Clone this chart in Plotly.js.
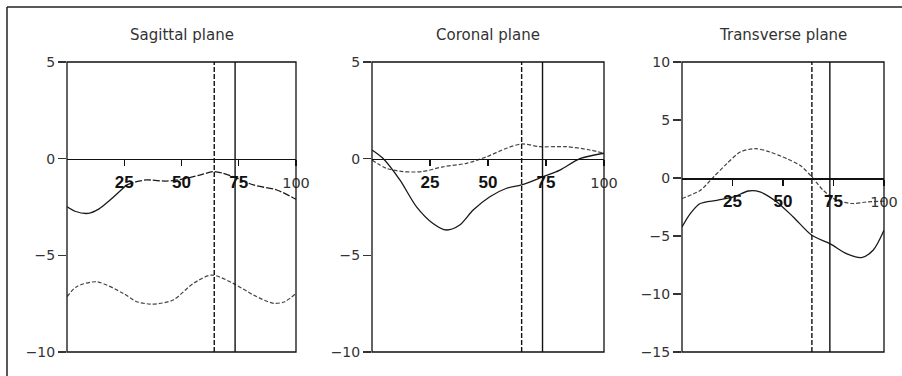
<!DOCTYPE html>
<html>
<head>
<meta charset="utf-8">
<script src="https://cdn.plot.ly/plotly-3.0.1.min.js"></script>
<style>html,body{margin:0;padding:0;background:#fff;}#chart{width:902px;height:376px;}</style>
</head>
<body>
<div id="chart"></div>
<script>
// ---------- DATA ----------
const panelTitles = ["Sagittal plane", "Coronal plane", "Transverse plane"];
const xTickVals = [25, 50, 75, 100];
const yRanges = [[-10, 5], [-10, 5], [-15, 10]];

// Sagittal plane
const sagSolidX = [0, 3.5, 9.3, 14, 18.8, 26, 30, 34.8, 43.5, 52.3, 58, 63.9, 68, 72.6, 81.4, 91.6, 100];
const sagSolidY = [-2.49, -2.72, -2.83, -2.6, -2.14, -1.36, -1.2, -1.1, -1.16, -1.02, -0.85, -0.67, -0.75, -0.93, -1.36, -1.62, -2.1];
const sagDashX = [0, 4.2, 13, 24.6, 30.4, 36.2, 40, 46.4, 55.2, 63.2, 72.6, 81.4, 90.1, 95, 100];
const sagDashY = [-7.14, -6.62, -6.37, -6.97, -7.4, -7.52, -7.5, -7.31, -6.45, -6.02, -6.45, -7.05, -7.48, -7.4, -6.97];
const sagMarkers = [64.3, 73.4];

// Coronal plane
const corSolidX = [0, 4.7, 12, 19.2, 26.3, 32.1, 37.8, 43.6, 50.8, 58, 64.5, 73.8, 81, 89.6, 100];
const corSolidY = [0.45, 0.02, -1.1, -2.49, -3.35, -3.69, -3.43, -2.66, -1.97, -1.53, -1.36, -0.93, -0.59, 0.0, 0.28];
const corDashX = [0, 6.2, 13.4, 21.6, 30.6, 40.7, 49.4, 58, 64.5, 72.4, 83.9, 93.9, 100];
const corDashY = [-0.07, -0.5, -0.67, -0.67, -0.42, -0.24, 0.1, 0.54, 0.76, 0.62, 0.62, 0.45, 0.28];
const corMarkers = [64.5, 73.5];

// Transverse plane
const traSolidX = [0, 4.1, 9, 17.3, 25.5, 32.9, 38.6, 46.9, 55.1, 64.3, 73.2, 81.4, 88.8, 94.6, 100];
const traSolidY = [-4.22, -3.07, -2.2, -1.92, -1.63, -1.12, -1.2, -2.06, -3.36, -4.94, -5.66, -6.52, -6.86, -6.23, -4.5];
const traDashX = [0, 9, 15.6, 22.2, 28.8, 36.2, 43.6, 51.8, 58.4, 64.3, 69.9, 76.5, 84.7, 91.3, 100];
const traDashY = [-1.77, -1.07, 0.09, 1.24, 2.24, 2.53, 2.24, 1.67, 1.09, 0.09, -1.06, -1.92, -2.2, -2.07, -2.0];
const traMarkers = [64.3, 73.2];

// ---------- LAYOUT ----------
const W = 902, H = 376;
const xPix = [[67, 296], [372, 604], [682, 884]];
const yPix = [62, 352];
const yDom = [1 - yPix[1] / H, 1 - yPix[0] / H];
const sagSplit = 5; // solid portion of the upper sagittal curve

const font = {family: "DejaVu Sans, sans-serif", size: 13.5, color: "#333"};
const titleFont = {family: "DejaVu Sans, sans-serif", size: 15, color: "#333"};
const tickText = xTickVals.map(v => v < 100
  ? '<span style="font-family:\'Liberation Sans Narrow\',\'Liberation Sans\',sans-serif;font-stretch:condensed;font-weight:bold;font-size:17px;fill:#111">' + v + '</span>'
  : String(v));

const solidLine = {color: "#1a1a1a", width: 1.3, shape: "spline", smoothing: 0.8};
const dashLine = {color: "#444", width: 1.2, dash: "4px,2px", shape: "spline", smoothing: 0.8};

const traces = [];
function add(x, y, line, k) {
  const s = k === 0 ? "" : String(k + 1);
  traces.push({x: x, y: y, type: "scatter", mode: "lines", line: line,
    xaxis: "x" + s, yaxis: "y" + s, hoverinfo: "skip", showlegend: false});
}
add(sagSolidX.slice(0, sagSplit + 1), sagSolidY.slice(0, sagSplit + 1), solidLine, 0);
add(sagSolidX.slice(sagSplit), sagSolidY.slice(sagSplit), Object.assign({}, solidLine, {dash: "7px,2px"}), 0);
add(sagDashX, sagDashY, dashLine, 0);
add(corSolidX, corSolidY, solidLine, 1);
add(corDashX, corDashY, dashLine, 1);
add(traSolidX, traSolidY, solidLine, 2);
add(traDashX, traDashY, dashLine, 2);

const layout = {
  width: W, height: H,
  margin: {l: 0, r: 0, t: 0, b: 0},
  paper_bgcolor: "#fff", plot_bgcolor: "#fff",
  font: font,
  showlegend: false,
  shapes: [],
  annotations: []
};

const markers = [sagMarkers, corMarkers, traMarkers];
for (let k = 0; k < 3; k++) {
  const s = k === 0 ? "" : String(k + 1);
  const yr = yRanges[k];
  const zeroPos = yDom[0] + (0 - yr[0]) / (yr[1] - yr[0]) * (yDom[1] - yDom[0]);
  layout["xaxis" + s] = {
    domain: [xPix[k][0] / W, xPix[k][1] / W],
    range: [0, 100], anchor: "free", position: zeroPos,
    showgrid: false, zeroline: false, showline: true, linecolor: "#111", linewidth: 1.5,
    ticks: "outside", ticklen: 6, tickwidth: 1.2, tickcolor: "#111",
    tickvals: xTickVals, ticktext: tickText, ticklabelstandoff: 4,
    tickfont: {family: "DejaVu Sans, sans-serif", size: 14.5, color: "#333"},
    fixedrange: true
  };
  layout["yaxis" + s] = {
    domain: yDom, range: yr, anchor: "x" + s, dtick: 5, tick0: 0,
    showgrid: false, zeroline: false, showline: false,
    ticks: "outside", ticklen: 8, tickwidth: 1.2, tickcolor: "#333",
    tickfont: {family: "DejaVu Sans, sans-serif", size: 14, color: "#333"}, fixedrange: true
  };
  layout.shapes.push({type: "rect", xref: "x" + s + " domain", yref: "y" + s + " domain",
    x0: 0, x1: 1, y0: 0, y1: 1, line: {color: "#111", width: 1.3}, layer: "above"});
  markers[k].forEach((m, i) => {
    layout.shapes.push({type: "line", xref: "x" + s, yref: "y" + s + " domain",
      x0: m, x1: m, y0: 0, y1: 1,
      line: {color: "#111", width: 1.4, dash: i === 0 ? "5px,2px" : "solid"}});
  });
  layout.annotations.push({text: panelTitles[k], xref: "x" + s + " domain", x: 0.5,
    yref: "paper", y: 1 - 35 / H, xanchor: "center", yanchor: "middle",
    showarrow: false, font: titleFont});
}
// outer frame (top and left edges visible)
layout.shapes.push({type: "line", xref: "paper", yref: "paper", x0: 7 / W, x1: 1.01, y0: 1 - 7 / H, y1: 1 - 7 / H, line: {color: "#222", width: 1.5}});
layout.shapes.push({type: "line", xref: "paper", yref: "paper", x0: 7 / W, x1: 7 / W, y0: 1 - 7 / H, y1: -0.01, line: {color: "#222", width: 1.5}});

Plotly.newPlot("chart", traces, layout, {staticPlot: true, displayModeBar: false});
</script>
</body>
</html>
